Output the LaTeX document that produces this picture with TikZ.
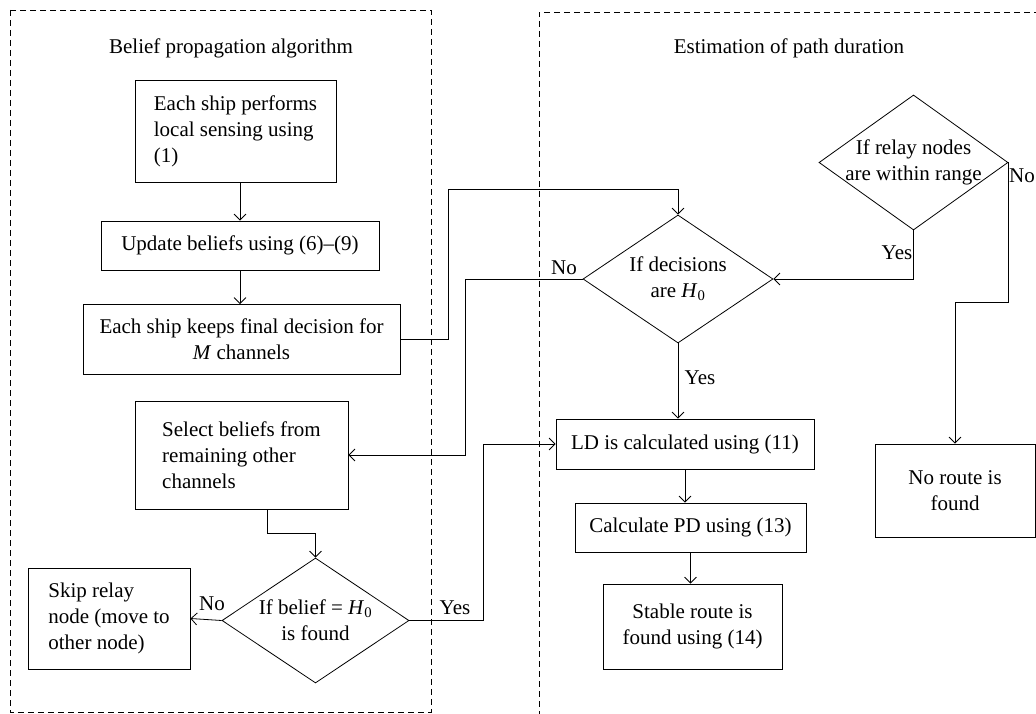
\documentclass[tikz,border=0pt]{standalone}
\usepackage{fontspec}
\setmainfont{Liberation Serif}
\usetikzlibrary{shapes.geometric,arrows.meta}
\begin{document}
\begin{tikzpicture}[x=1pt,y=-1pt,
  every node/.style={font=\fontsize{21}{26}\selectfont},
  box/.style={draw, line width=0.8pt, inner sep=0pt},
  dia/.style={draw, diamond, line width=0.8pt, inner sep=0pt},
  arr/.style={line width=0.8pt, -{Straight Barb[length=6pt,width=12pt]}},
  ln/.style={line width=0.8pt},
  frame/.style={line width=0.8pt, dash pattern=on 6pt off 4pt},
  lbl/.style={inner sep=0pt}]
\useasboundingbox (0,0) rectangle (1036,714);

% frames
\draw[frame] (10,10) rectangle (431,712);
\draw[frame] (1040,12) -- (539,12) -- (539,718);

% titles
\node (t1) at (231,48) {Belief propagation algorithm};
\node (t2) at (789,48) {Estimation of path duration};

% left column
\node[box, minimum width=201, minimum height=102, align=left] (b1) at (235.5,131) {Each ship performs\\local sensing using\\(1)};
\node[box, minimum width=278, minimum height=49] (b2) at (240,245.5) {Update beliefs using (6)--(9)};
\node[box, minimum width=317, minimum height=70, align=center] (b3) at (241.5,339.5) {Each ship keeps final decision for\\\textit{M} channels};
\node[box, minimum width=213, minimum height=108, align=left] (b4) at (241.5,455) {Select beliefs from\\remaining other\\channels};
\node[dia, minimum width=187, minimum height=125] (d1) at (315.5,620.5) {};
\node[lbl, align=center] (d1t) at (d1) {If belief = \textit{H}\textsubscript{0}\\is found};
\node[box, minimum width=162, minimum height=101, align=left] (sk) at (109,618.5) {Skip relay\\node (move to\\other node)};

% right column
\node[dia, minimum width=190, minimum height=128] (d2) at (678,279) {};
\node[lbl, align=center] (d2t) at (d2) {If decisions\\are \textit{H}\textsubscript{0}};
\node[dia, minimum width=189, minimum height=135] (d3) at (913.5,162.5) {};
\node[lbl, align=center] (d3t) at (d3) {If relay nodes\\are within range};
\node[box, minimum width=258, minimum height=50] (ld) at (685,444) {LD is calculated using (11)};
\node[box, minimum width=231, minimum height=49] (pd) at (690.5,527.5) {Calculate PD using (13)};
\node[box, minimum width=179, minimum height=85, align=center] (st) at (692.5,626.5) {Stable route is\\found using (14)};
\node[box, minimum width=160, minimum height=93, align=center] (nr) at (955,490.5) {No route is\\found};

% connectors
\draw[arr] (b1.south -| b2.north) -- (b2.north);
\draw[arr] (b2.south) -- (b2.south |- b3.north);
\draw[ln] (b3.south -| b2.south) -- (b3.south -| b2.south |- b4.north);
\draw[arr] ([xshift=25.5pt]b4.south) -- ++(0,24) -| (d1.north);
\draw[arr] (d1.west) -- (sk.east);
\draw[arr] (d1.east) -- ++(74,0) |- (ld.west);
\draw[arr] (b3.east) -- ++(48,0) |- ([yshift=25pt]d2.north) -- (d2.north);
\draw[arr] (d2.west) -- ++(-117,0) |- (b4.east);
\draw[arr] (d3.south) |- (d2.east);
\draw[arr] (d3.east) -- ++(0,140) -| (nr.north);
\draw[arr] (d2.south) -- (d2.south |- ld.north);
\draw[arr] (ld.south) -- (ld.south |- pd.north);
\draw[arr] (pd.south) -- (pd.south |- st.north);

% labels
\node[lbl] (l1) at (212,604) {No};
\node[lbl] (l2) at (455,608) {Yes};
\node[lbl] (l3) at (564,268) {No};
\node[lbl] (l4) at (897,253) {Yes};
\node[lbl, anchor=east] (l5) at (1035,176) {No};
\node[lbl] (l6) at (700,378) {Yes};
\end{tikzpicture}
\end{document}
